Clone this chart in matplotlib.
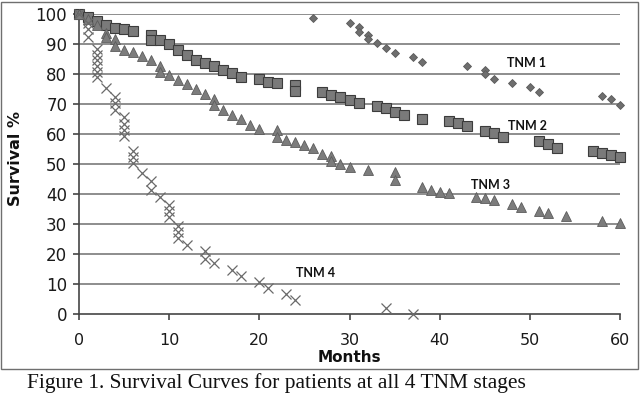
import matplotlib
matplotlib.use("Agg")
import matplotlib.pyplot as plt
from matplotlib.patches import Rectangle

# ---- data ----
tnm1_months = [0, 26, 30, 31, 31, 32, 32, 33, 34, 35, 37, 38, 43, 45, 45, 46, 48, 50, 51, 58, 59, 60]
tnm1_surv = [100, 98.6, 96.9, 95.8, 94.1, 93.0, 91.6, 90.2, 88.6, 87.1, 85.6, 84.1, 82.7, 81.3, 80.0,
             78.4, 77.1, 75.8, 74.1, 72.7, 71.8, 69.7]

tnm2_months = [0, 1, 2, 3, 4, 5, 6, 8, 8, 9, 10, 11, 12, 13, 14, 15, 16, 17, 18, 20, 21, 22, 24, 24,
               27, 28, 29, 30, 31, 33, 34, 35, 36, 38, 41, 42, 43, 45, 46, 47, 51, 52, 53, 57, 58, 59, 60]
tnm2_surv = [100, 98.9, 97.8, 96.4, 95.3, 94.9, 94.4, 93.0, 91.5, 91.2, 90.1, 88.1, 86.4, 84.6, 83.7,
             82.6, 81.4, 80.3, 79.0, 78.3, 77.4, 76.9, 76.3, 74.3, 73.9, 73.0, 72.2, 71.3, 70.2, 69.4,
             68.6, 67.4, 66.3, 65.0, 64.4, 63.6, 62.7, 61.1, 60.2, 59.1, 57.8, 56.7, 55.4, 54.4, 53.6,
             53.0, 52.2]

tnm3_months = [0, 1, 2, 3, 3, 4, 4, 5, 6, 7, 8, 9, 9, 10, 11, 12, 13, 14, 15, 15, 16, 17, 18, 19, 20,
               22, 22, 23, 24, 25, 26, 27, 28, 28, 29, 30, 32, 35, 35, 38, 39, 40, 41, 44, 45, 46, 48,
               49, 51, 52, 54, 58, 60]
tnm3_surv = [100, 98.2, 96.5, 93.6, 92.2, 91.8, 89.4, 88.1, 87.2, 85.9, 84.8, 82.8, 80.7, 79.8, 78.1,
             76.7, 75.0, 73.3, 71.8, 69.6, 68.0, 66.3, 64.9, 63.0, 61.8, 61.3, 59.0, 58.0, 57.2, 56.3,
             55.2, 53.5, 52.8, 51.0, 50.0, 48.9, 47.9, 47.2, 44.8, 42.4, 41.3, 40.8, 40.2, 39.1, 38.8,
             38.0, 36.7, 35.6, 34.4, 33.8, 32.7, 31.1, 30.4]

tnm4_months = [0, 1, 1, 1, 2, 2, 2, 2, 2, 2, 3, 4, 4, 4, 5, 5, 5, 5, 6, 6, 6, 7, 8, 8, 9, 10, 10, 10,
               11, 11, 11, 12, 14, 14, 15, 17, 18, 20, 21, 23, 24, 34, 37]
tnm4_surv = [100, 97.0, 95.0, 92.5, 88.4, 86.5, 84.6, 82.7, 80.8, 78.9, 75.3, 72.5, 70.3, 68.0, 65.6,
             63.5, 61.4, 59.3, 54.4, 52.4, 50.4, 46.9, 44.3, 41.5, 39.0, 36.3, 34.3, 32.3, 29.2, 27.3,
             25.3, 23.0, 21.0, 18.5, 16.9, 14.7, 12.8, 10.6, 8.6, 6.6, 4.7, 1.9, 0.0]

series_labels = ["TNM 1", "TNM 2", "TNM 3", "TNM 4"]
label_pos_x = [49.6, 49.7, 45.6, 26.2]
label_pos_y = [83.6, 62.7, 43.0, 13.6]

x_ticks = [0, 10, 20, 30, 40, 50, 60]
y_ticks = [0, 10, 20, 30, 40, 50, 60, 70, 80, 90, 100]
x_label = "Months"
y_label = "Survival %"
caption = "Figure 1. Survival Curves for patients at all 4 TNM stages"

# ---- figure ----
W, H = 640, 397
fig = plt.figure(figsize=(W / 100, H / 100), dpi=100)
fig.patch.set_facecolor("white")


def fx(px):
    return px / W


def fy(py):
    return 1 - py / H


# outer chart frame
fig.add_artist(Rectangle((fx(0.8), fy(369)), fx(637.5), (369 - 1.5) / H, transform=fig.transFigure,
                         fill=False, edgecolor="#6f6f6f", linewidth=1.0))

ax = fig.add_axes([fx(79), fy(314), fx(620 - 79), 300 / H])
ax.set_xlim(0, 60)
ax.set_ylim(0, 100)
ax.set_facecolor("none")

for y in y_ticks[1:]:
    ax.axhline(y, color="#7a7a7a", linewidth=1.2, zorder=1)

ax.set_xticks(x_ticks)
ax.set_yticks(y_ticks)
ax.tick_params(axis="both", direction="out", length=4.5, width=1.2, color="#454545",
               labelsize=12, labelcolor="#1a1a1a")
ax.tick_params(axis="x", pad=9.5, labelsize=11.5)
ax.tick_params(axis="y", pad=4)
for lab in ax.get_xticklabels() + ax.get_yticklabels():
    lab.set_fontfamily("DejaVu Sans")

for side in ["top", "right"]:
    ax.spines[side].set_visible(False)
for side in ["left", "bottom"]:
    ax.spines[side].set_color("#454545")
    ax.spines[side].set_linewidth(1.2)

kw = dict(linestyle="none", clip_on=False, zorder=3)
ax.plot(tnm1_months, tnm1_surv, marker="D", markersize=4.5, markerfacecolor="#6e6e6e",
        markeredgecolor="#5a5a5a", markeredgewidth=0.6, **kw)
ax.plot(tnm2_months, tnm2_surv, marker="s", markersize=6.6, markerfacecolor="#7a7a7a",
        markeredgecolor="#3c3c3c", markeredgewidth=0.8, **kw)
ax.plot(tnm3_months, tnm3_surv, marker="^", markersize=6.8, markerfacecolor="#7c7c7c",
        markeredgecolor="#5c5c5c", markeredgewidth=0.6, **kw)
ax.plot(tnm4_months, tnm4_surv, marker="x", markersize=7.5, markeredgecolor="#6a6a6a",
        markeredgewidth=0.9, **kw)

for lab, lx, ly in zip(series_labels, label_pos_x, label_pos_y):
    ax.text(lx, ly, lab, ha="center", va="center", fontsize=9, fontweight="bold",
            family="Lato", color="#111111", zorder=4)

fig.text(fx(349), fy(357.5), x_label, ha="center", va="center", fontsize=11,
         fontweight="bold", family="DejaVu Sans", color="#111111")
fig.text(fx(16), fy(158), y_label, ha="center", va="center", rotation=90, fontsize=11.5,
         fontweight="bold", family="DejaVu Sans", color="#111111")

fig.text(fx(27), fy(383), caption, ha="left", va="center", fontsize=15.5,
         family="Liberation Serif", color="#111111")

fig.savefig("out.png", dpi=100)
